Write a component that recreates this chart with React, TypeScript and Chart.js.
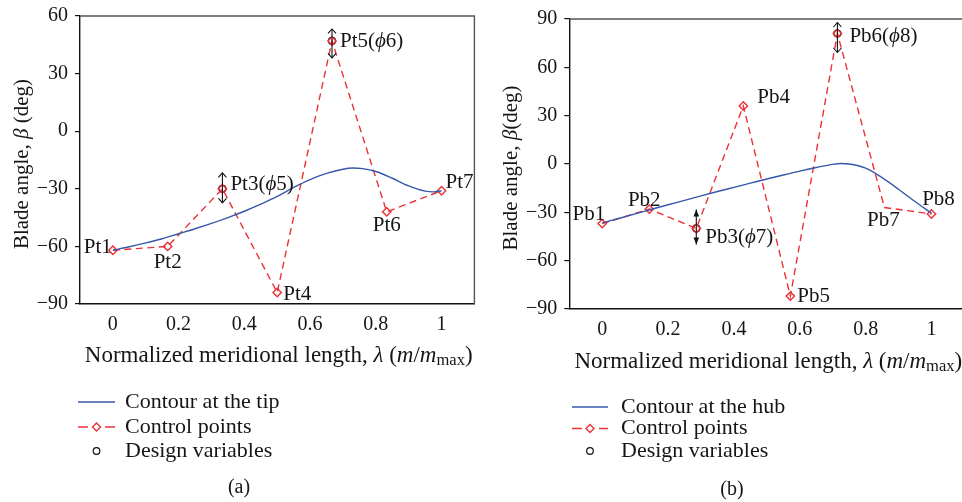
import React, { useEffect, useRef } from 'react';
import { Chart, registerables } from 'chart.js';

Chart.register(...registerables);

const FONT = '"Liberation Serif", "Times New Roman", serif';
const TEXT = '#151515';
const BLUE = '#3558aa';
const RED = '#ec3036';

// ---------- data: panel (a) tip ----------
const TIP_CONTROL_X = [0, 0.1667, 0.3333, 0.5, 0.6667, 0.8333, 1];
const TIP_CONTROL_Y = [-62, -60, -30, -84, 47, -42, -31];
const TIP_CONTROL_LABELS = ['Pt1', 'Pt2', 'Pt3(ϕ5)', 'Pt4', 'Pt5(ϕ6)', 'Pt6', 'Pt7'];
const TIP_DESIGN_INDEX = [2, 4];
const TIP_CURVE_X = [0, 0.05, 0.1, 0.15, 0.2, 0.25, 0.3, 0.35, 0.4, 0.45, 0.5, 0.55, 0.6, 0.65, 0.7, 0.73, 0.76, 0.8, 0.85, 0.9, 0.95, 0.975, 1];
const TIP_CURVE_Y = [-62, -60.2, -58.2, -56, -53.4, -50.8, -48, -45, -41.7, -38, -34, -29.3, -25.2, -22, -19.8, -19.2, -19.5, -21, -24.5, -28.5, -31.2, -31.6, -31];
const TIP_Y_TICKS = [-90, -60, -30, 0, 30, 60];

// ---------- data: panel (b) hub ----------
const HUB_CONTROL_X = [0, 0.1429, 0.2857, 0.4286, 0.5714, 0.7143, 0.8571, 1];
const HUB_CONTROL_Y = [-37, -28, -40, 36, -82, 81, -27, -31];
const HUB_CONTROL_LABELS = ['Pb1', 'Pb2', 'Pb3(ϕ7)', 'Pb4', 'Pb5', 'Pb6(ϕ8)', 'Pb7', 'Pb8'];
const HUB_DESIGN_INDEX = [2, 5];
const HUB_CURVE_X = [0, 0.05, 0.1, 0.15, 0.2, 0.25, 0.3, 0.35, 0.4, 0.45, 0.5, 0.55, 0.6, 0.65, 0.7, 0.725, 0.75, 0.8, 0.85, 0.9, 0.95, 1];
const HUB_CURVE_Y = [-36.5, -33.8, -31, -28.1, -25.3, -22.6, -19.8, -17.1, -14.5, -11.9, -9.3, -6.8, -4.4, -2.2, -0.2, 0.3, 0, -2.6, -8.5, -15.7, -23.3, -30.6];
const HUB_Y_TICKS = [-90, -60, -30, 0, 30, 60, 90];

const X_TICKS = [0, 0.2, 0.4, 0.6, 0.8, 1];

const TIP_LEGEND = ['Contour at the tip', 'Control points', 'Design variables'];
const HUB_LEGEND = ['Contour at the hub', 'Control points', 'Design variables'];

type Seg = { t: string; i?: boolean; sub?: boolean };
const X_TITLE: Seg[] = [
  { t: 'Normalized meridional length, ' },
  { t: 'λ', i: true },
  { t: ' (' },
  { t: 'm', i: true },
  { t: '/' },
  { t: 'm', i: true },
  { t: 'max', sub: true },
  { t: ')' },
];
const TIP_Y_TITLE = 'Blade angle, β (deg)';
const HUB_Y_TITLE = 'Blade angle, β(deg)';

// ---------- styles / layout ----------
type Panel = {
  left: number;
  width: number;
  area: { left: number; top: number; right: number; bottom: number };
  xMin: number;
  xMax: number;
  yMin: number;
  yMax: number;
  yTicks: number[];
  cx: number[];
  cy: number[];
  labels: string[];
  design: number[];
  curveX: number[];
  curveY: number[];
  legend: string[];
  yTitle: string;
  caption: string;
  captionPos: [number, number];
  legendRows: number[];
  legendLine: [number, number];
  legendText: number;
  labelOffsets: [number, number, 'left' | 'center' | 'right'][];
  arrows: [number, number, 'open' | 'filled'][];
  hiddenMarkers: number[];
  rightBorder: boolean;
  titleDy: number;
};

const PANELS: Panel[] = [
  {
    left: 0,
    width: 480,
    area: { left: 80, top: 16, right: 477, bottom: 304 },
    xMin: -0.1,
    xMax: 1.1,
    yMin: -90,
    yMax: 60,
    yTicks: TIP_Y_TICKS,
    cx: TIP_CONTROL_X,
    cy: TIP_CONTROL_Y,
    labels: TIP_CONTROL_LABELS,
    design: TIP_DESIGN_INDEX,
    curveX: TIP_CURVE_X,
    curveY: TIP_CURVE_Y,
    legend: TIP_LEGEND,
    yTitle: TIP_Y_TITLE,
    caption: '(a)',
    captionPos: [239, 488],
    legendRows: [402, 427, 451],
    legendLine: [78, 115],
    legendText: 125,
    labelOffsets: [
      [-1, -3, 'right'],
      [0, 16, 'center'],
      [8, -4, 'left'],
      [6, 2, 'left'],
      [8, 1, 'left'],
      [0, 14, 'center'],
      [4, -8, 'left'],
    ],
    arrows: [
      [16, 14, 'open'],
      [12, 17, 'open'],
    ],
    hiddenMarkers: [],
    rightBorder: true,
    titleDy: 52,
  },
  {
    left: 480,
    width: 490,
    area: { left: 89.3, top: 19, right: 486.5, bottom: 309 },
    xMin: -0.1,
    xMax: 1.1,
    yMin: -90,
    yMax: 90,
    yTicks: HUB_Y_TICKS,
    cx: HUB_CONTROL_X,
    cy: HUB_CONTROL_Y,
    labels: HUB_CONTROL_LABELS,
    design: HUB_DESIGN_INDEX,
    curveX: HUB_CURVE_X,
    curveY: HUB_CURVE_Y,
    legend: HUB_LEGEND,
    yTitle: HUB_Y_TITLE,
    caption: '(b)',
    captionPos: [252, 490],
    legendRows: [407, 428.5, 451],
    legendLine: [92, 128],
    legendText: 141,
    labelOffsets: [
      [3, -9, 'right'],
      [-5, -9, 'center'],
      [9, 9, 'left'],
      [14, -9, 'left'],
      [7, 0, 'left'],
      [12, 3, 'left'],
      [-1, 13, 'center'],
      [7, -14, 'center'],
    ],
    arrows: [
      [19, 16, 'filled'],
      [11, 19, 'open'],
    ],
    hiddenMarkers: [6],
    rightBorder: false,
    titleDy: 53,
  },
];

const CANVAS_H = 502;

function segFont(size: number, s: Seg) {
  const sz = s.sub ? size * 0.72 : size;
  return `${s.i ? 'italic ' : ''}${sz}px ${FONT}`;
}

function parseSegs(str: string): Seg[] {
  const out: Seg[] = [];
  let buf = '';
  for (const ch of str) {
    if (ch === 'ϕ' || ch === 'β' || ch === 'λ') {
      if (buf) out.push({ t: buf });
      buf = '';
      out.push({ t: ch, i: true });
    } else buf += ch;
  }
  if (buf) out.push({ t: buf });
  return out;
}

function richWidth(ctx: CanvasRenderingContext2D, segs: Seg[], size: number) {
  let w = 0;
  for (const s of segs) {
    ctx.font = segFont(size, s);
    w += ctx.measureText(s.t).width;
  }
  return w;
}

function drawRich(
  ctx: CanvasRenderingContext2D,
  segs: Seg[],
  x: number,
  y: number,
  size: number,
  align: 'left' | 'center' | 'right'
) {
  const w = richWidth(ctx, segs, size);
  let cx = align === 'left' ? x : align === 'center' ? x - w / 2 : x - w;
  ctx.textBaseline = 'middle';
  ctx.textAlign = 'left';
  ctx.fillStyle = TEXT;
  for (const s of segs) {
    ctx.font = segFont(size, s);
    ctx.fillText(s.t, cx, s.sub ? y + size * 0.22 : y);
    cx += ctx.measureText(s.t).width;
  }
}

function drawDiamond(ctx: CanvasRenderingContext2D, x: number, y: number, r: number) {
  ctx.beginPath();
  ctx.moveTo(x, y - r);
  ctx.lineTo(x + r, y);
  ctx.lineTo(x, y + r);
  ctx.lineTo(x - r, y);
  ctx.closePath();
  ctx.stroke();
}

function makePlugin(p: Panel) {
  return {
    id: 'annot',
    afterDatasetsDraw(chart: any) {
      const ctx: CanvasRenderingContext2D = chart.ctx;
      const xs = chart.scales.x;
      const ys = chart.scales.y;
      const a = chart.chartArea;
      ctx.save();
      // top / right frame
      ctx.strokeStyle = '#555';
      ctx.lineWidth = 1.4;
      ctx.setLineDash([]);
      ctx.beginPath();
      ctx.moveTo(a.left, a.top);
      ctx.lineTo(a.right, a.top);
      if (p.rightBorder) ctx.lineTo(a.right, a.bottom);
      ctx.stroke();

      // arrows on design variables
      p.design.forEach((idx, k) => {
        const px = xs.getPixelForValue(p.cx[idx]);
        const py = ys.getPixelForValue(p.cy[idx]);
        const [up, down, head] = p.arrows[k];
        const t = py - up;
        const b = py + down;
        ctx.strokeStyle = '#111';
        ctx.fillStyle = '#111';
        ctx.lineWidth = 1.1;
        ctx.beginPath();
        ctx.moveTo(px, t);
        ctx.lineTo(px, b);
        ctx.stroke();
        if (head === 'open') {
          ctx.beginPath();
          ctx.moveTo(px - 4, t + 4.5);
          ctx.lineTo(px, t);
          ctx.lineTo(px + 4, t + 4.5);
          ctx.moveTo(px - 4, b - 4.5);
          ctx.lineTo(px, b);
          ctx.lineTo(px + 4, b - 4.5);
          ctx.stroke();
        } else {
          ctx.beginPath();
          ctx.moveTo(px, t);
          ctx.lineTo(px - 2.8, t + 7);
          ctx.lineTo(px + 2.8, t + 7);
          ctx.closePath();
          ctx.fill();
          ctx.beginPath();
          ctx.moveTo(px, b);
          ctx.lineTo(px - 2.8, b - 7);
          ctx.lineTo(px + 2.8, b - 7);
          ctx.closePath();
          ctx.fill();
        }
      });

      // point labels
      p.labels.forEach((lab, i) => {
        const px = xs.getPixelForValue(p.cx[i]);
        const py = ys.getPixelForValue(p.cy[i]);
        const [dx, dy, al] = p.labelOffsets[i];
        drawRich(ctx, parseSegs(lab), px + dx, py + dy, 21, al);
      });
      ctx.restore();
    },
    afterDraw(chart: any) {
      const ctx: CanvasRenderingContext2D = chart.ctx;
      const a = chart.chartArea;
      ctx.save();
      // x title
      drawRich(ctx, X_TITLE, (a.left + a.right) / 2 + 1.5, a.bottom + p.titleDy, 23, 'center');
      // y title
      ctx.save();
      ctx.translate(a.left - 58, (a.top + a.bottom) / 2 + 4);
      ctx.rotate(-Math.PI / 2);
      drawRich(ctx, parseSegs(p.yTitle), 0, 0, 21, 'center');
      ctx.restore();

      // legend
      const ds = chart.data.datasets;
      const [l0, l1] = p.legendLine;
      const mid = (l0 + l1) / 2;
      // row 0: solid line
      ctx.setLineDash([]);
      ctx.strokeStyle = ds[0].borderColor;
      ctx.lineWidth = ds[0].borderWidth;
      ctx.beginPath();
      ctx.moveTo(l0, p.legendRows[0]);
      ctx.lineTo(l1, p.legendRows[0]);
      ctx.stroke();
      // row 1: dashed with diamond
      ctx.strokeStyle = ds[1].borderColor;
      ctx.lineWidth = ds[1].borderWidth;
      ctx.setLineDash([10, 17]);
      ctx.beginPath();
      ctx.moveTo(l0, p.legendRows[1]);
      ctx.lineTo(l1, p.legendRows[1]);
      ctx.stroke();
      ctx.setLineDash([]);
      drawDiamond(ctx, mid, p.legendRows[1], 4);
      // row 2: circle
      ctx.strokeStyle = ds[2].pointBorderColor;
      ctx.lineWidth = ds[2].pointBorderWidth;
      ctx.beginPath();
      ctx.arc(mid, p.legendRows[2], 3.3, 0, Math.PI * 2);
      ctx.stroke();
      ds.forEach((d: any, i: number) => {
        drawRich(ctx, [{ t: d.label }], p.legendText, p.legendRows[i], 22, 'left');
      });
      // caption
      drawRich(ctx, [{ t: p.caption }], p.captionPos[0], p.captionPos[1], 20, 'center');
      ctx.restore();
    },
  };
}

function buildChart(canvas: HTMLCanvasElement, p: Panel) {
  const curve = p.curveX.map((x, i) => ({ x, y: p.curveY[i] }));
  const control = p.cx.map((x, i) => ({ x, y: p.cy[i] }));
  const design = p.design.map((i) => ({ x: p.cx[i], y: p.cy[i] }));
  const areaBottom = p.area.bottom;
  const areaLeft = p.area.left;
  return new Chart(canvas, {
    type: 'line',
    data: {
      datasets: [
        {
          label: p.legend[0],
          data: curve,
          borderColor: BLUE,
          borderWidth: 1.4,
          pointRadius: 0,
          tension: 0.4,
          cubicInterpolationMode: 'monotone',
          fill: false,
        },
        {
          label: p.legend[1],
          data: control,
          borderColor: RED,
          borderWidth: 1.4,
          borderDash: [7, 4.5],
          tension: 0,
          pointStyle: 'rectRot',
          pointRadius: (c: any) => (p.hiddenMarkers.includes(c.dataIndex) ? 0 : 4.2),
          pointBorderColor: RED,
          pointBackgroundColor: 'rgba(255,255,255,0)',
          pointBorderWidth: 1.4,
          fill: false,
        },
        {
          label: p.legend[2],
          data: design,
          showLine: false,
          pointStyle: 'circle',
          pointRadius: 3.5,
          pointBorderColor: '#111',
          pointBackgroundColor: 'rgba(255,255,255,0)',
          pointBorderWidth: 1.2,
        },
      ] as any,
    },
    options: {
      responsive: false,
      animation: false,
      devicePixelRatio: 1,
      layout: { padding: { top: p.area.top, right: p.width - p.area.right, left: 0, bottom: 0 } },
      plugins: { legend: { display: false }, tooltip: { enabled: false } },
      events: [],
      scales: {
        x: {
          type: 'linear',
          min: p.xMin,
          max: p.xMax,
          afterBuildTicks: (s: any) => {
            s.ticks = X_TICKS.map((v) => ({ value: v }));
          },
          afterFit: (s: any) => {
            s.height = CANVAS_H - areaBottom;
            s.paddingLeft = 0;
            s.paddingRight = 0;
          },
          ticks: {
            font: { family: FONT, size: 20 },
            color: TEXT,
            padding: 9,
            maxRotation: 0,
            autoSkip: false,
            callback: (v: any) => String(v),
          },
          grid: { display: true, drawOnChartArea: false, drawTicks: false, color: '#111' },
          border: { display: true, color: '#111', width: 1.4 },
        },
        y: {
          type: 'linear',
          min: p.yMin,
          max: p.yMax,
          afterBuildTicks: (s: any) => {
            s.ticks = p.yTicks.map((v) => ({ value: v }));
          },
          afterFit: (s: any) => {
            s.width = areaLeft;
            s.paddingTop = 0;
            s.paddingBottom = 0;
          },
          ticks: {
            font: { family: FONT, size: 20 },
            color: TEXT,
            padding: 7,
            autoSkip: false,
            callback: (v: any) => String(v).replace('-', '\u2212'),
          },
          grid: { display: true, drawOnChartArea: false, drawTicks: true, tickLength: 5, color: '#111', lineWidth: 1.2 },
          border: { display: true, color: '#111', width: 1.4 },
        },
      },
    } as any,
    plugins: [makePlugin(p)],
  });
}

export default function App() {
  const refA = useRef<HTMLCanvasElement>(null);
  const refB = useRef<HTMLCanvasElement>(null);
  useEffect(() => {
    const charts: Chart[] = [];
    if (refA.current) charts.push(buildChart(refA.current, PANELS[0]));
    if (refB.current) charts.push(buildChart(refB.current, PANELS[1]));
    return () => charts.forEach((c) => c.destroy());
  }, []);
  return (
    <div
      style={{
        position: 'fixed',
        left: 0,
        top: 0,
        width: 962,
        height: 502,
        overflow: 'hidden',
        background: '#fff',
      }}
    >
      <canvas
        ref={refA}
        width={PANELS[0].width}
        height={CANVAS_H}
        style={{ position: 'absolute', left: PANELS[0].left, top: 0, width: PANELS[0].width, height: CANVAS_H }}
      />
      <canvas
        ref={refB}
        width={PANELS[1].width}
        height={CANVAS_H}
        style={{ position: 'absolute', left: PANELS[1].left, top: 0, width: PANELS[1].width, height: CANVAS_H }}
      />
    </div>
  );
}
